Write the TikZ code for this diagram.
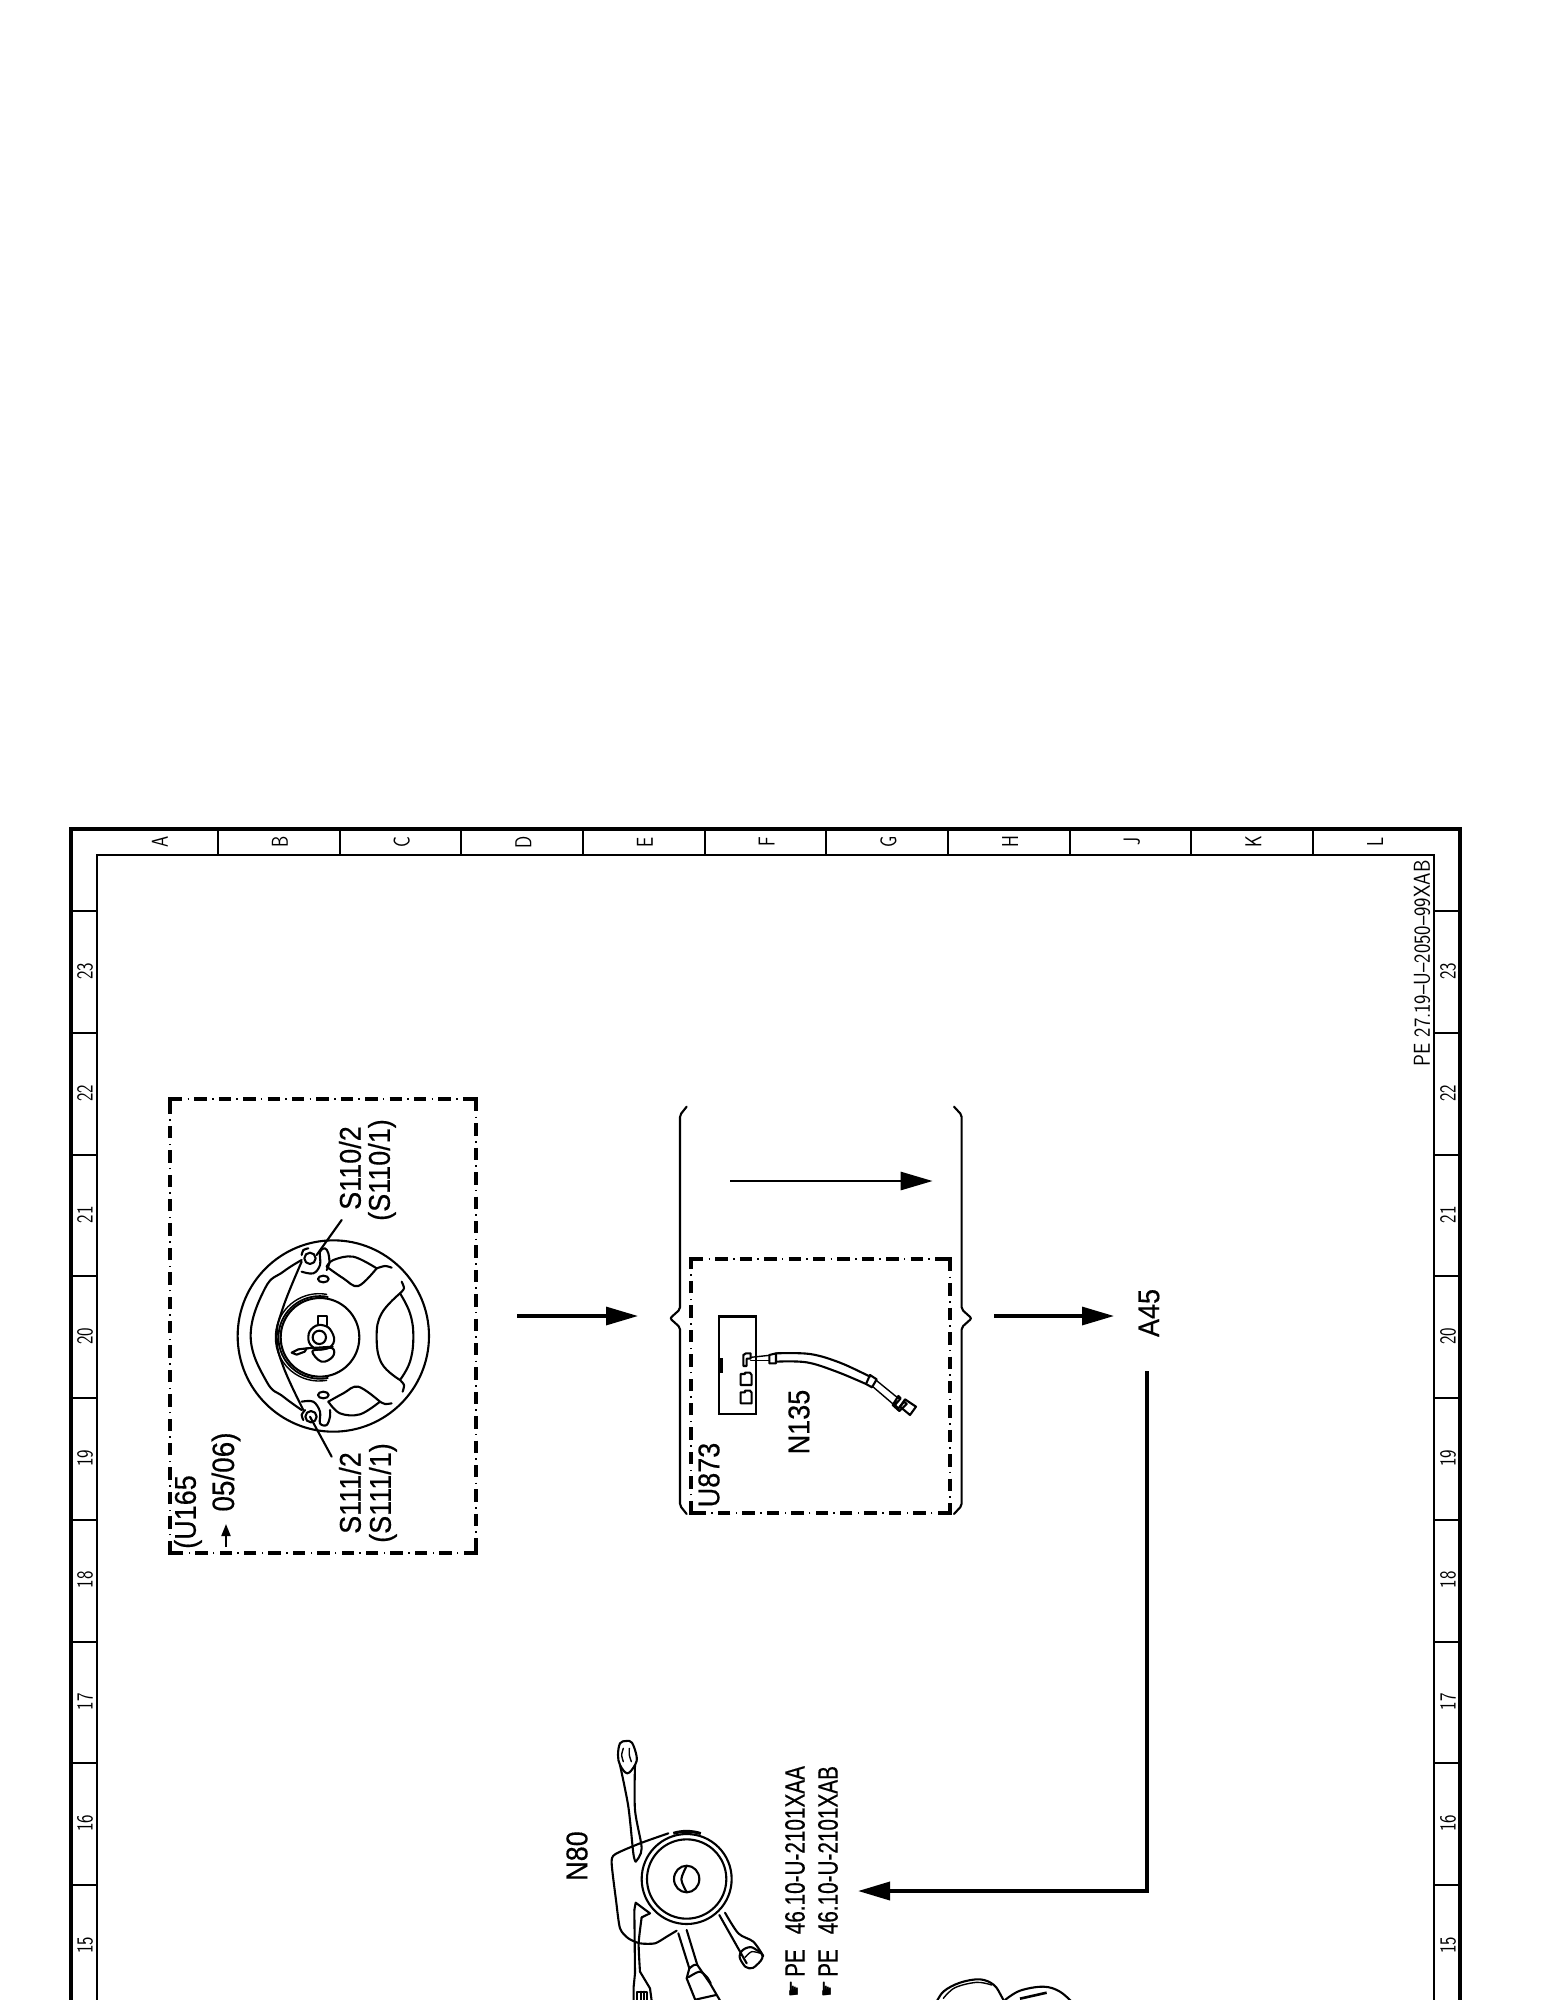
\documentclass[tikz,border=0pt]{standalone}
\usepackage{fontspec}
\usetikzlibrary{arrows.meta}
\setmainfont{Liberation Sans}
\newfontfamily\labA[FakeStretch=.9,FakeBold=.4]{Liberation Sans}
\newfontfamily\labB[FakeStretch=.74,FakeBold=.4]{Liberation Sans}
\newfontfamily\thinf[FakeStretch=.78]{Latin Modern Sans}
\newfontfamily\codef[FakeStretch=.865]{Latin Modern Sans}
\newfontfamily\symf{DejaVu Sans}
\tikzset{
  gridline/.style={line width=2pt,black},
  outerline/.style={line width=3.6pt,black},
  dd/.style={line width=3.2pt,dash pattern=on 12.4pt off 12pt,
    postaction={draw,line width=1.6pt,dash pattern=on 1.5pt off 22.9pt,dash phase=6.8pt}},
  ddc/.style={line width=3.2pt,line cap=butt,miter limit=10},
  gridlab/.style={rotate=90,inner sep=0pt,font=\thinf\fontsize{23}{23}\selectfont},
  codelab/.style={rotate=90,inner sep=0pt,font=\codef\fontsize{23}{23}\selectfont},
  lab/.style={rotate=90,inner sep=0pt,font=\labA\fontsize{30}{30}\selectfont},
  ref/.style={rotate=90,inner sep=0pt,font=\labB\fontsize{28}{28}\selectfont},
  handlab/.style={rotate=90,inner sep=0pt,font=\symf\fontsize{19}{19}\selectfont},
  conn/.style={line width=3.2pt,-{Triangle[length=32pt,width=18pt]}},
  sk/.style={line width=2.1pt,line join=round,line cap=round},
  skt/.style={line width=1.4pt,line join=round,line cap=round},
}
\newcommand{\ddbox}[4]{%
  \draw[dd] (#1,#2)--(#3,#2);\draw[dd] (#3,#2)--(#3,#4);
  \draw[dd] (#3,#4)--(#1,#4);\draw[dd] (#1,#4)--(#1,#2);
  \draw[ddc] (#1+10,#2)--(#1,#2)--(#1,#2+10);
  \draw[ddc] (#3-10,#2)--(#3,#2)--(#3,#2+10);
  \draw[ddc] (#3-10,#4)--(#3,#4)--(#3,#4-10);
  \draw[ddc] (#1+10,#4)--(#1,#4)--(#1,#4-10);}
\begin{document}
\begin{tikzpicture}[x=1pt,y=-1pt]
\path[use as bounding box,fill=white] (0,0) rectangle (1545,2000);
\clip (0,0) rectangle (1545,2000);
% frame
\draw[outerline] (71,2010)--(71,829)--(1460,829)--(1460,2010);
\draw[gridline] (97,2010)--(97,855)--(1434,855)--(1434,2010);
\foreach \k in {0,...,9}{\draw[gridline] ({218+121.67*\k},829)--({218+121.67*\k},855);}
\foreach \k in {0,...,8}{
  \draw[gridline] (71,{911+121.75*\k})--(97,{911+121.75*\k});
  \draw[gridline] (1434,{911+121.75*\k})--(1460,{911+121.75*\k});}
\node[gridlab] (colA) at (160,842) {A};
\foreach \l [count=\k from 0] in {B,C,D,E,F,G,H,J,K,L}{
  \node[gridlab] (col\l) at ({280+121.67*\k},842) {\l};}
\foreach \n [count=\k from 0] in {15,...,23}{
  \node[gridlab] (rowl\n) at (85,{1945-121.7*\k}) {\n};
  \node[gridlab] (rowr\n) at (1448,{1945-121.7*\k}) {\n};}
\node[codelab] (code) at (1422,963.5) {PE 27.19–U–2050–99XAB};
% U165 box
\ddbox{170}{1099}{476}{1553}
\node[lab] (u165) at (188,1512) {(U165};
\node[lab,font=\labA\fontsize{31}{31}\selectfont] (date) at (226,1472) {05/06)};
\coordinate (dateA) at (226,1547); \coordinate (dateB) at (226,1524);
\draw[line width=2pt,-{Triangle[length=12pt,width=9pt]}] (dateA)--(dateB);
\node[lab] (s110a) at (350,1168) {S110/2};
\node[lab] (s110b) at (382,1170) {(S110/1)};
\node[lab] (s111a) at (350,1493) {S111/2};
\node[lab] (s111b) at (383,1493) {(S111/1)};
% steering wheel (coordinates in 3x crop)
\begin{scope}[shift={(150,1080)},x=.33333pt,y=-.33333pt]
\draw[sk] (550,768) circle (287);
\draw[sk] (510,772) circle (118);
\draw[line width=1.8pt] (535,651) arc[start angle=-78,end angle=-282,radius=124];
\draw[skt] (530,643) arc[start angle=-80,end angle=-280,radius=131];
\draw[sk] plot[smooth,tension=.7] coordinates {(455,540)(400,575)(345,625)(302,770)(350,905)(400,950)(455,990)};
\draw[sk] plot[smooth,tension=.7] coordinates {(455,545)(400,680)(380,770)(400,860)(460,990)};
\draw[sk] (480,535) circle (17);
\draw[sk] (483,1010) circle (17);
\draw[sk] plot[smooth,tension=.6] coordinates {(530,560)(550,540)(610,530)(680,565)};
\draw[sk] plot[smooth,tension=.6] coordinates {(680,565)(625,618)(580,595)(530,560)};
\draw[sk] plot[smooth] coordinates {(680,565)(705,558)(725,563)};
\draw[sk] plot[smooth,tension=.6] coordinates {(535,965)(580,940)(625,920)(690,965)};
\draw[sk] plot[smooth,tension=.6] coordinates {(690,965)(630,1003)(570,1000)(535,965)};
\draw[sk] plot[smooth] coordinates {(690,965)(705,972)(725,970)};
\draw[sk] plot[smooth,tension=.7] coordinates {(750,640)(695,700)(680,770)(695,850)(750,900)};
\draw[sk] plot[smooth,tension=.7] coordinates {(750,640)(780,700)(790,770)(780,845)(750,900)};
\draw[sk] plot[smooth] coordinates {(750,640)(762,625)(755,605)};
\draw[sk] plot[smooth] coordinates {(750,900)(762,915)(758,935)};
\draw[sk] (520,597) ellipse (16 and 10);
\draw[sk] (520,945) ellipse (16 and 10);
\draw[sk] (508,772) circle (20);
\draw[sk] plot[smooth cycle,tension=.8] coordinates {(475,770)(490,742)(520,736)(545,755)(550,790)(520,808)(487,800)};
\draw[sk] (505,736)--(505,708)--(530,708)--(530,736);
\draw[sk] plot[smooth cycle,tension=.7] coordinates {(487,815)(515,808)(548,805)(548,830)(515,845)};
\draw[sk] (425,818)--(445,808)--(470,805)--(464,815)--(440,824)--cycle;
\draw[sk] (470,805)--(548,800);
\draw[sk] plot[smooth,tension=.6] coordinates {(455,575)(490,580)(510,555)(510,515)(525,505)(535,520)(538,550)(530,570)};
\draw[sk] plot[smooth] coordinates {(455,525)(460,510)(475,505)};
\draw[sk] plot[smooth,tension=.6] coordinates {(455,965)(490,965)(510,995)(510,1030)(530,1035)(540,1010)(540,990)};
\draw[sk] plot[smooth] coordinates {(460,1020)(455,1005)(465,990)};
\coordinate (leadA) at (575,420); \coordinate (leadB) at (500,525);
\coordinate (leadC) at (545,1130); \coordinate (leadD) at (480,1010);
\draw[sk] (leadA)--(leadB);
\draw[sk] (leadC)--(leadD);
\end{scope}
% arrows
\coordinate (a1s) at (517,1316); \coordinate (a1e) at (638,1316);
\draw[conn] (a1s)--(a1e);
\coordinate (a2s) at (994,1316); \coordinate (a2e) at (1114,1316);
\draw[conn] (a2s)--(a2e);
\node[lab] (a45) at (1149,1313) {A45};
\coordinate (a3s) at (1147,1371); \coordinate (a3c) at (1147,1891); \coordinate (a3e) at (858,1891);
\draw[conn,line width=3.6pt] (a3s)--(a3c)--(a3e);
% N135 group
\begin{scope}[shift={(650,1090)},x=.33333pt,y=-.33333pt]
\coordinate (a4s) at (240,273); \coordinate (a4e) at (848,273);
\draw[conn,line width=2.8pt] (a4s)--(a4e);
\draw[sk,rounded corners=2pt] (110,50)--(90,75)--(90,658)--(60,685)--(90,712)--(90,1247)--(110,1272);
\draw[sk,rounded corners=2pt] (912,50)--(935,75)--(935,658)--(965,685)--(935,712)--(935,1247)--(912,1272);
\draw[line width=2.6pt] (207,680) rectangle (318,972);
\fill (207,805) rectangle (218,848);
\draw[sk] (280,828)--(280,795)--(288,790)--(302,790)--(302,806)--(290,806)--(290,828)--cycle;
\draw[sk] (272,885)--(272,852)--(285,852)--(285,848)--(300,848)--(305,855)--(305,885)--cycle;
\draw[sk] (272,940)--(272,907)--(285,907)--(285,902)--(300,902)--(305,908)--(305,940)--cycle;
\draw[skt] (302,802)--(358,796);
\draw[skt] (302,812)--(358,812);
\draw[sk] (358,795)--(378,790)--(378,820)--(358,820)--cycle;
\draw[sk] plot[smooth,tension=.6] coordinates {(378,790)(480,792)(570,818)(660,860)};
\draw[sk] plot[smooth,tension=.6] coordinates {(378,815)(470,817)(560,845)(648,882)};
\draw[sk] (648,882)--(660,855)--(680,868)--(666,892)--cycle;
\draw[skt] (680,872)--(745,925);
\draw[skt] (666,888)--(735,947);
\draw[sk] (745,918)--(752,925)--(735,945)--(745,955)--(763,935)--(770,942)--(748,963)--(728,945)--cycle;
\draw[sk] (765,928)--(798,950)--(780,975)--(750,950)--cycle;
\end{scope}
\ddbox{691}{1259}{950}{1513}
\node[lab] (u873) at (709,1475) {U873};
\node[lab] (n135) at (799,1422) {N135};
% N80 switch
\node[lab] (n80) at (577,1856) {N80};
\begin{scope}[shift={(540,1720)},x=.33333pt,y=-.33333pt]
\draw[sk] (440,477) circle (135);
\draw[sk] (440,477) circle (119);
\draw[line width=3pt] (400,340) arc[start angle=-107,end angle=-72,radius=137];
\draw[sk] (440,477) ellipse (38 and 40);
\draw[sk] plot[smooth] coordinates {(440,438)(424,478)(440,516)};
\draw[sk] plot[smooth,tension=.4] coordinates {(385,340)(300,370)(225,403)(215,430)(228,540)(240,625)(265,655)(300,670)(345,670)(380,650)(410,632)};
\draw[sk] plot[smooth,tension=.5] coordinates {(287,425)(280,400)(265,260)(240,135)};
\draw[sk] plot[smooth,tension=.5] coordinates {(287,425)(305,385)(285,270)(285,135)};
\draw[sk] plot[smooth cycle,tension=.6] coordinates {(240,135)(234,105)(240,70)(258,63)(276,68)(290,110)(285,135)(262,160)};
\draw[skt] plot[smooth] coordinates {(250,85)(245,105)(250,125)};
\draw[skt] plot[smooth] coordinates {(268,85)(268,105)(274,125)};
\draw[sk] (283,570)--(287,548)--(330,580)--(305,592);
\draw[sk] plot[smooth,tension=.4] coordinates {(283,570)(284,660)(285,760)};
\draw[sk] plot[smooth,tension=.4] coordinates {(305,592)(296,670)(300,755)};
\draw[sk] (285,760)--(281,800)--(281,850);
\draw[sk] (300,755)--(330,805)--(336,850);
\draw[sk] (292,850)--(292,815)--(322,815)--(322,850);
\draw[sk] (303,815)--(303,850);\draw[sk] (313,815)--(313,850);
\draw[sk] (415,640)--(448,745)--(440,775)--(470,850);
\draw[sk] (440,630)--(472,735)--(510,790)--(545,850);
\draw[sk] plot[smooth] coordinates {(448,745)(462,735)(472,735)};
\draw[sk] plot[smooth] coordinates {(445,772)(478,755)(500,770)(512,790)};
\draw[sk] (470,838)--(528,825);
\draw[sk] (538,585)--(620,730);
\draw[sk] plot[smooth,tension=.5] coordinates {(555,578)(595,640)(640,665)(670,708)};
\draw[sk] plot[smooth cycle,tension=.8] coordinates {(600,702)(625,682)(650,690)(668,708)(650,735)(628,745)(608,730)};
\draw[skt] plot[smooth] coordinates {(615,712)(635,695)(662,700)};
\end{scope}
% references
\node[ref,anchor=west] (r1) at (795,1977) {PE\hspace{15pt}46.10-U-2101XAA};
\node[ref,anchor=west] (r2) at (828,1977) {PE\hspace{15pt}46.10-U-2101XAB};
\node[handlab] (h1) at (795,1989) {☛};
\node[handlab] (h2) at (828,1989) {☛};
% bottom figure
\begin{scope}[shift={(920,1950)},x=.33333pt,y=-.33333pt]
\draw[sk] plot[smooth,tension=.6] coordinates {(45,165)(70,125)(120,98)(180,88)(222,105)(245,140)(255,160)};
\draw[skt] plot[smooth,tension=.6] coordinates {(70,145)(105,113)(170,97)(215,105)};
\draw[sk] plot[smooth,tension=.6] coordinates {(255,150)(300,122)(370,110)(420,125)(465,165)};
\draw[line width=2.6pt] (300,146)--(380,128);
\end{scope}
\end{tikzpicture}
\end{document}
